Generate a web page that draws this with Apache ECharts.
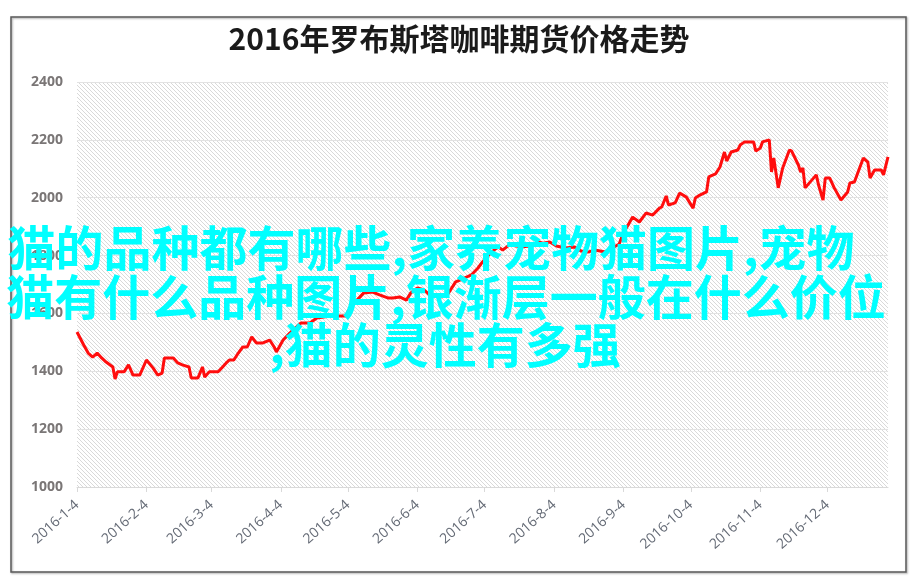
<!DOCTYPE html>
<html>
<head>
<meta charset="utf-8">
<script src="https://cdn.jsdelivr.net/npm/echarts@6/dist/echarts.min.js"></script>
<style>
html,body{margin:0;padding:0;background:#fff;}
#chart{width:918px;height:583px;}
</style>
</head>
<body>
<div id="chart"></div>
<script>
const titleText = '2016年罗布斯塔咖啡期货价格走势';
const overlayLines = ['猫的品种都有哪些,家养宠物猫图片,宠物', '猫有什么品种图片,银渐层一般在什么价位', ',猫的灵性有多强'];

const tickLabels = ['2016-1-4','2016-2-4','2016-3-4','2016-4-4','2016-5-4','2016-6-4',
  '2016-7-4','2016-8-4','2016-9-4','2016-10-4','2016-11-4','2016-12-4'];

const dates = [
 '2016-1-4','2016-1-7','2016-1-9','2016-1-11','2016-1-13','2016-1-15','2016-1-17','2016-1-20','2016-1-21','2016-1-22',
 '2016-1-25','2016-1-27','2016-1-29','2016-2-1','2016-2-4','2016-2-7','2016-2-9','2016-2-11','2016-2-12','2016-2-16',
 '2016-2-18','2016-2-20','2016-2-23','2016-2-24','2016-2-27','2016-2-29','2016-3-1','2016-3-3','2016-3-7','2016-3-9',
 '2016-3-11','2016-3-12','2016-3-14','2016-3-16','2016-3-18','2016-3-20','2016-3-22','2016-3-24','2016-3-27','2016-3-30',
 '2016-4-1','2016-4-2','2016-4-5','2016-4-8','2016-4-13','2016-4-17','2016-4-20','2016-4-26','2016-5-3','2016-5-5',
 '2016-5-8','2016-5-11','2016-5-15','2016-5-18','2016-5-22','2016-5-24','2016-5-27','2016-5-30','2016-6-1','2016-6-4',
 '2016-6-7','2016-6-10','2016-6-14','2016-6-17','2016-6-21','2016-6-24','2016-6-28','2016-7-1','2016-7-3','2016-7-7',
 '2016-7-10','2016-7-12','2016-7-15','2016-7-20','2016-7-24','2016-7-28','2016-7-30','2016-8-2','2016-8-5','2016-8-9',
 '2016-8-13','2016-8-16','2016-8-19','2016-8-22','2016-8-27','2016-8-30','2016-9-2','2016-9-4','2016-9-6','2016-9-8',
 '2016-9-11','2016-9-14','2016-9-17','2016-9-20','2016-9-21','2016-9-23','2016-9-24','2016-9-27','2016-9-29','2016-10-2',
 '2016-10-5','2016-10-6','2016-10-8','2016-10-11','2016-10-12','2016-10-15','2016-10-17','2016-10-19','2016-10-20','2016-10-22',
 '2016-10-25','2016-10-26','2016-10-28','2016-11-1','2016-11-2','2016-11-4','2016-11-5','2016-11-8','2016-11-9','2016-11-10',
 '2016-11-12','2016-11-14','2016-11-17','2016-11-18','2016-11-21','2016-11-22','2016-11-23','2016-11-24','2016-11-29','2016-11-30',
 '2016-12-2','2016-12-3','2016-12-5','2016-12-7','2016-12-10','2016-12-13','2016-12-14','2016-12-16','2016-12-20','2016-12-22',
 '2016-12-23','2016-12-25','2016-12-28','2016-12-29','2016-12-31'
];

const prices = [
 1536,1491,1463,1449,1463,1446,1432,1415,1373,1398,
 1398,1422,1387,1387,1439,1411,1387,1394,1446,1446,
 1429,1422,1415,1377,1377,1415,1380,1398,1398,1415,
 1432,1439,1439,1463,1484,1484,1519,1498,1498,1508,
 1484,1467,1508,1532,1567,1567,1584,1591,1591,1622,
 1646,1671,1674,1664,1653,1653,1657,1646,1671,1688,
 1681,1660,1657,1660,1709,1719,1733,1757,1778,1812,
 1830,1819,1837,1830,1833,1847,1843,1847,1833,1826,
 1830,1816,1812,1819,1812,1826,1840,1881,1906,1933,
 1916,1947,1940,1964,1968,2006,1975,1982,2016,2002,
 1964,1999,2009,2020,2072,2082,2106,2158,2127,2158,
 2165,2182,2193,2193,2161,2172,2193,2200,2089,2137,
 2034,2103,2165,2161,2113,2089,2103,2034,2079,2044,
 1992,2068,2068,2034,1992,2020,2051,2054,2137,2123,
 2068,2096,2096,2079,2141
];

const startDate = '2016-1-4';
const endDate = '2016-12-31';

function ts(s){ const p = s.split('-').map(Number); return Date.UTC(p[0], p[1]-1, p[2]); }
function dayOf(s){ return Math.round((ts(s) - ts(startDate)) / 86400000); }

const seriesData = dates.map((d, i) => [dayOf(d), prices[i]]);
const tickValues = tickLabels.map(dayOf);
const labelByDay = {};
tickLabels.forEach(l => { labelByDay[dayOf(l)] = l; });

// hatch pattern
const pc = document.createElement('canvas');
pc.width = 4; pc.height = 4;
const ctx = pc.getContext('2d');
ctx.fillStyle = '#ffffff'; ctx.fillRect(0,0,4,4);
ctx.strokeStyle = '#d9d9d9'; ctx.lineWidth = 1;
ctx.beginPath();
ctx.moveTo(-1,-1); ctx.lineTo(5,5);
ctx.moveTo(-1,3); ctx.lineTo(1,5);
ctx.moveTo(3,-1); ctx.lineTo(5,1);
ctx.stroke();

const overlayX = [431, 446, 445];
const overlayY = [224, 273, 321];

const chart = echarts.init(document.getElementById('chart'));
chart.setOption({
  animation: false,
  backgroundColor: '#ffffff',
  title: {
    text: titleText,
    left: 'center',
    top: 19,
    textStyle: { fontFamily: 'Noto Sans CJK SC', fontSize: 30, fontWeight: 'bold', color: '#1a1a1a' }
  },
  grid: { left: 77, right: 30, top: 82, bottom: 96 },
  xAxis: {
    type: 'value',
    min: 0,
    max: dayOf(endDate),
    axisLine: { show: true, lineStyle: { color: '#d9d9d9', width: 1 } },
    axisTick: { show: true, customValues: tickValues, length: 5, lineStyle: { color: '#d9d9d9' } },
    axisLabel: {
      customValues: tickValues,
      formatter: function (v) { return labelByDay[Math.round(v)] || ''; },
      rotate: 42,
      margin: 16,
      fontFamily: 'Open Sans',
      fontSize: 14,
      color: '#656b76'
    },
    splitLine: { show: false }
  },
  yAxis: {
    type: 'value',
    min: 1000,
    max: 2400,
    interval: 200,
    axisLine: { show: false },
    axisTick: { show: false },
    axisLabel: {
      margin: 14, fontFamily: 'Open Sans', fontSize: 14, fontWeight: 'bold', color: '#7a7676',
      formatter: function (v) { return String(v); }
    },
    splitLine: { show: true, lineStyle: { color: '#e2e2e2', width: 1 } }
  },
  graphic: [
    {
      type: 'rect', z: -10, silent: true,
      shape: { x: 77, y: 82, width: 811, height: 405 },
      style: { fill: { image: pc, repeat: 'repeat' } }
    },
    {
      type: 'rect', z: 50, silent: true,
      shape: { x: 11, y: 17, width: 895, height: 555 },
      style: { fill: 'none', stroke: '#5a5a5a', lineWidth: 1.5, shadowColor: 'rgba(0,0,0,0.35)', shadowBlur: 2, shadowOffsetX: 1, shadowOffsetY: 1 }
    }
  ].concat(overlayLines.map((t, i) => ({
    type: 'text', z: 100, silent: true,
    x: overlayX[i], y: overlayY[i],
    style: {
      text: t,
      fill: '#00ffff',
      font: 'bold 48px "Noto Sans CJK SC"',
      textAlign: 'center',
      textVerticalAlign: 'top'
    }
  }))),
  series: [{
    type: 'line',
    data: seriesData,
    symbol: 'none',
    lineStyle: { color: '#ff0d0d', width: 3 },
    z: 5
  }]
});
</script>
</body>
</html>
